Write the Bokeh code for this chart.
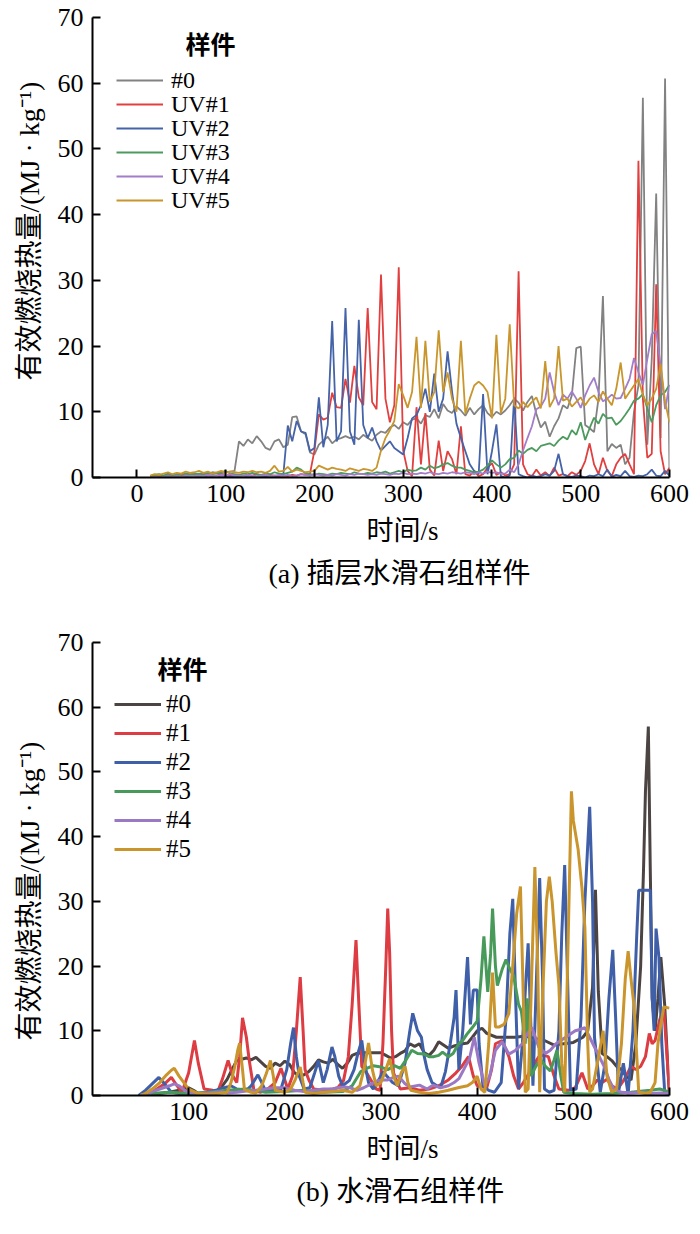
from bokeh.plotting import figure
from bokeh.layouts import column
from bokeh.models import Range1d, FixedTicker, Legend, LegendItem, Label, Title
from bokeh.core.properties import value
from bokeh.embed import file_html
from bokeh.resources import INLINE

SERIF = "'Liberation Serif', 'Noto Sans CJK SC', serif"
CJK_BOLD = "'Noto Sans CJK SC', sans-serif"

# ---------------- (a) data: sampling times (s) and heat values ----------------
t_top = list(range(15, 601, 5))

top_labels = ["#0", "UV#1", "UV#2", "UV#3", "UV#4", "UV#5"]
top_colors = ["#828282", "#e0403f", "#4563a8", "#4c9a5e", "#a27dc9", "#c8962c"]

gray_top = [0.1,0.2,0.3,0.2,0.4,0.3,0.5,0.4,0.6,0.5,
            0.6,0.5,0.7,0.6,0.8,0.7,0.6,0.8,0.9,1.0,
            5.5,4.8,5.8,5.2,6.3,5.5,4.5,4.2,5.5,5.8,
            4.6,5.0,9.2,9.3,7.0,6.6,3.8,3.5,5.0,5.6,
            6.2,5.2,5.8,6.0,6.3,6.0,6.2,5.8,6.5,6.0,
            5.6,6.5,7.0,6.8,7.6,8.0,7.4,8.4,8.0,8.8,
            9.0,8.2,9.5,9.2,10.4,9.0,11.2,10.2,9.8,10.8,
            10.2,9.4,10.6,9.6,10.4,11.0,9.8,9.2,10.0,9.6,
            10.2,11.0,12.0,11.4,10.2,11.5,12.4,9.7,7.6,8.5,
            6.2,7.8,9.0,11.0,10.5,12.5,19.7,19.9,8.0,7.5,
            6.9,12.0,27.6,4.0,5.1,4.5,5.0,2.0,3.0,10.0,
            14.0,57.8,5.0,18.0,43.2,6.0,60.7,0.5]
red_top = [0.0,0.0,0.1,0.0,0.2,0.1,0.0,0.2,0.3,0.1,
           0.2,0.3,0.1,0.4,0.2,0.3,0.5,0.2,0.3,0.4,
           0.3,0.2,0.4,0.3,0.5,0.3,0.2,0.4,0.3,0.2,
           0.3,0.2,0.4,0.3,0.5,0.4,0.6,4.1,9.6,8.8,
           9.1,12.9,10.7,10.6,15.0,11.4,17.0,12.2,11.0,25.8,
           11.5,10.4,30.9,12.0,8.4,11.0,32.0,4.1,1.0,0.2,
           10.7,2.0,9.8,1.2,0.3,5.6,1.0,4.0,2.8,0.5,
           7.8,0.5,0.3,1.0,0.2,0.5,1.5,2.2,0.4,0.8,
           0.3,0.5,2.0,31.4,2.0,0.5,0.2,1.2,0.3,0.8,
           0.2,1.5,0.3,0.5,0.2,0.8,0.4,1.0,2.5,5.2,
           2.0,0.5,3.0,1.0,0.2,2.0,3.0,3.6,2.0,0.5,
           48.2,12.0,3.0,3.6,29.4,4.0,0.5,1.5]
blue_top = [0.0,0.0,0.0,0.0,0.1,0.0,0.1,0.0,0.2,0.1,
            0.1,0.2,0.1,0.3,0.2,0.1,0.3,0.2,0.1,0.2,
            0.2,0.1,0.3,0.2,0.1,0.2,0.3,0.1,0.2,0.3,
            0.5,7.9,5.5,8.6,7.0,6.8,4.0,4.5,12.2,4.6,
            8.0,23.8,5.5,7.0,25.8,7.0,5.0,24.0,8.0,6.0,
            7.6,5.5,4.1,4.8,5.5,4.5,4.0,3.5,6.0,9.0,
            9.5,11.0,13.5,10.0,15.8,10.0,12.0,19.2,13.1,8.2,
            6.0,4.0,2.0,1.0,0.5,12.7,0.5,4.0,8.1,0.2,
            0.0,0.3,12.2,0.5,0.2,0.0,0.3,0.1,0.2,0.5,
            0.3,1.0,3.6,0.5,0.2,0.1,0.3,0.2,0.0,0.3,
            0.2,0.5,0.2,1.2,0.1,0.4,0.2,1.0,0.2,0.1,
            0.3,0.2,0.5,1.2,0.3,0.2,1.0,0.3]
green_top = [0.2,0.4,0.5,0.3,0.6,0.4,0.3,0.5,0.6,0.4,
             0.5,0.6,0.4,0.7,0.5,0.6,0.8,1.0,0.6,0.5,
             0.4,0.6,0.5,0.7,0.5,0.4,0.6,0.5,0.8,0.6,
             0.5,0.7,0.9,1.5,1.2,0.6,0.5,0.4,0.6,0.5,
             0.4,0.6,0.5,0.7,0.6,0.5,0.8,0.6,0.5,0.7,
             0.6,0.8,0.7,0.9,0.6,0.8,1.0,0.8,1.2,1.0,
             1.1,1.5,1.2,1.8,1.4,1.6,2.0,2.2,1.8,1.5,
             1.5,1.2,1.0,0.8,0.9,1.2,1.8,2.6,2.0,1.5,
             2.0,2.8,3.0,4.1,3.6,4.2,4.5,4.0,4.8,5.0,
             5.2,4.8,5.6,6.2,5.8,7.2,6.5,8.4,5.7,7.5,
             9.1,8.2,9.7,9.0,9.1,8.0,8.6,9.5,10.5,11.7,
             12.0,12.7,10.5,8.4,11.0,12.5,13.0,14.1]
purple_top = [0.0,0.1,0.0,0.1,0.2,0.1,0.2,0.1,0.3,0.2,
              0.2,0.3,0.2,0.4,0.3,0.2,0.4,0.3,0.5,0.3,
              0.3,0.2,0.4,0.3,0.2,0.3,0.4,0.2,0.3,0.4,
              0.3,0.4,0.2,0.3,0.5,0.4,0.3,0.5,0.4,0.3,
              0.4,0.3,0.5,0.4,0.3,0.5,0.4,0.6,0.5,0.4,
              0.5,0.4,0.6,0.5,0.4,0.6,0.5,0.7,0.5,0.6,
              0.5,0.7,0.6,0.8,0.6,0.5,0.7,0.6,0.8,0.7,
              0.6,0.8,0.7,0.5,0.8,0.6,0.9,0.7,0.8,0.6,
              0.6,1.2,0.8,2.0,4.1,6.0,7.8,10.4,10.8,12.0,
              16.0,13.0,11.0,12.6,12.0,13.1,12.0,10.6,12.5,14.0,
              15.2,13.0,11.6,12.0,12.6,12.0,12.1,13.5,15.0,18.2,
              16.0,14.1,18.0,21.8,22.3,17.0,10.4,14.1]
gold_top = [0.3,0.5,0.4,0.6,0.8,0.5,0.7,0.6,0.9,0.7,
            0.8,1.0,0.7,0.9,0.6,0.8,1.0,0.7,0.9,0.8,
            0.7,0.9,0.8,1.0,0.8,0.9,0.7,1.0,1.8,0.9,
            1.0,1.6,0.9,1.2,1.0,0.8,0.9,1.0,1.8,1.5,
            1.2,1.5,1.3,1.2,1.0,1.4,1.2,1.0,1.3,1.2,
            1.0,1.5,4.1,6.0,7.2,8.6,14.2,12.5,10.6,13.0,
            21.4,10.6,20.8,11.5,13.0,22.4,13.0,16.0,12.0,10.0,
            20.8,9.7,12.0,14.0,14.6,14.0,13.0,9.0,21.7,9.8,
            12.0,23.3,11.0,10.5,11.5,10.7,11.5,12.2,10.5,17.7,
            10.7,12.0,20.0,11.7,12.0,10.8,11.5,12.2,11.0,12.0,
            12.5,11.5,13.1,12.0,11.0,13.5,17.5,12.0,13.0,14.0,
            15.0,12.5,11.0,12.0,13.5,17.3,11.5,8.4]

# ---------------- (b) data: (time s, value) samples ----------------
bot_labels = ["#0", "#1", "#2", "#3", "#4", "#5"]
bot_colors = ["#4b4442", "#dc3c42", "#3f5fa8", "#479a5a", "#9b78c3", "#c9952c"]

dark_bot = [(50,0),(60,0.2),(70,0.3),(80,0.5),(90,0.8),(95,1.0),(100,1.2),(105,0.8),(110,0.3),(120,0.3),
            (130,0.8),(135,1.5),(140,2.5),(145,4.0),(150,5.4),(155,5.6),(160,5.8),(165,5.5),(170,5.9),(175,5.2),
            (180,4.5),(185,4.2),(190,5.0),(195,4.6),(200,5.3),(205,4.8),(210,3.5),(215,3.0),(220,3.2),(225,3.7),
            (230,4.5),(235,5.5),(240,5.2),(245,5.0),(250,5.6),(255,4.8),(260,4.2),(265,5.0),(270,6.2),(275,6.5),
            (280,6.6),(290,6.6),(300,6.6),(305,6.2),(310,5.8),(315,6.0),(320,6.5),(325,6.9),(330,8.0),(335,7.6),
            (340,8.0),(345,6.6),(350,6.2),(355,7.0),(360,8.3),(365,7.8),(370,7.3),(375,7.6),(380,7.8),(385,8.0),
            (390,8.1),(395,9.0),(400,10.0),(405,10.4),(410,9.6),(420,9.0),(430,9.0),(440,9.0),(450,9.2),(460,8.8),
            (470,8.5),(480,7.8),(490,8.0),(500,8.2),(510,9.0),(515,10.0),(520,16.7),(523,31.8),(526,16.0),(530,6.5),
            (535,6.0),(540,5.4),(545,4.5),(550,4.0),(555,3.0),(560,2.4),(565,8.0),(570,20.0),(573,35.0),(575,47.0),
            (578,57.0),(580,35.0),(582,15.0),(585,10.0),(588,15.0),(591,21.4),(595,14.0),(598,5.0),(600,0.0)]
red_bot = [(50,0),(55,0),(65,0.8),(75,1.8),(82,2.8),(88,1.5),(93,0.5),(100,3.5),(106,8.5),(110,5.0),
           (116,1.0),(125,0.8),(130,0.5),(135,2.5),(141,5.4),(146,3.0),(150,2.0),(153,6.0),(156,12.0),(160,9.0),
           (163,5.4),(168,0.7),(175,0.5),(182,1.0),(190,2.0),(196,4.2),(203,1.0),(208,3.0),(212,10.0),(216,18.3),
           (219,10.0),(221,4.0),(225,2.4),(230,1.0),(240,0.8),(250,1.0),(255,1.2),(261,2.3),(266,6.0),(270,14.0),
           (274,24.0),(277,14.0),(280,4.5),(285,3.5),(289,2.5),(295,1.0),(299,0.8),(302,8.0),(305,20.0),(307,28.9),
           (309,22.0),(311,10.0),(313,3.5),(320,1.0),(330,1.2),(340,0.8),(350,1.0),(360,1.5),(370,2.4),(378,3.5),
           (384,4.5),(391,6.0),(396,3.0),(400,1.5),(410,1.2),(415,4.0),(419,8.0),(426,8.5),(433,6.0),(438,3.0),
           (443,1.0),(448,2.0),(453,3.2),(458,4.5),(464,6.0),(469,6.2),(474,6.0),(480,3.0),(485,1.0),(495,0.8),
           (502,1.2),(509,3.5),(515,1.0),(520,1.5),(525,2.4),(530,2.0),(535,2.5),(540,1.5),(546,1.0),(553,2.5),
           (560,4.5),(565,4.0),(570,4.5),(575,6.0),(579,9.6),(582,8.0),(585,8.5),(590,11.8),(594,13.5),(597,7.0),
           (600,0.5)]
blue_bot = [(48,0),(55,0.8),(62,1.8),(69,2.8),(75,1.8),(82,0.5),(90,0.3),(100,0.2),(110,0.3),(120,0.5),
            (128,0.8),(134,1.1),(140,1.3),(144,1.5),(150,1.0),(160,0.8),(165,1.5),(172,3.2),(176,2.0),(179,1.0),
            (190,0.8),(196,1.0),(202,4.0),(206,8.0),(209,10.5),(212,6.0),(215,3.0),(220,1.0),(226,1.2),(231,3.5),
            (235,5.4),(240,2.0),(244,4.0),(249,7.5),(252,6.0),(256,3.0),(260,1.5),(267,2.3),(272,4.0),(276,6.5),
            (280,8.5),(283,5.0),(287,2.0),(292,1.0),(298,2.5),(302,3.7),(306,3.0),(312,2.0),(318,1.5),(325,5.0),
            (330,10.0),(333,12.7),(338,10.0),(342,9.0),(345,6.0),(348,4.0),(353,2.0),(358,1.5),(362,1.2),(367,3.7),
            (372,8.0),(376,12.0),(378,16.3),(381,4.0),(385,10.0),(390,21.4),(393,11.0),(396,16.3),(400,16.3),(402,8.0),
            (406,1.5),(412,0.8),(418,0.5),(425,2.0),(430,12.0),(434,25.0),(437,30.4),(440,15.0),(443,1.0),(447,8.0),
            (450,16.0),(453,23.5),(456,10.0),(458,1.5),(461,15.0),(465,33.6),(468,18.0),(470,1.0),(475,0.5),(480,0.8),
            (485,10.0),(488,25.0),(491,35.6),(494,18.0),(497,0.8),(503,1.0),(508,12.0),(512,30.0),(517,44.6),(520,30.0),
            (522,9.0),(528,0.5),(533,5.0),(537,15.0),(541,22.5),(544,12.0),(547,0.5),(552,5.0),(557,0.2),(562,10.0),
            (566,25.0),(568,31.7),(575,31.7),(580,31.7),(582,15.0),(584,10.0),(586,25.8),(589,21.4),(592,8.0),(595,0.5),
            (600,0.2)]
green_bot = [(50,0),(60,0.3),(80,0.5),(100,0.3),(120,0.5),(140,0.8),(160,1.0),(180,0.5),(200,0.6),(220,0.8),
             (240,0.5),(260,0.6),(270,1.5),(279,3.7),(285,4.2),(292,4.6),(300,4.4),(307,4.0),(314,4.6),(320,4.2),
             (326,5.5),(332,7.0),(338,6.5),(345,6.4),(350,6.0),(355,6.0),(360,6.2),(364,6.7),(370,6.0),(375,6.5),
             (378,7.3),(381,8.0),(385,8.5),(389,9.4),(395,10.5),(400,11.5),(404,18.0),(407,24.6),(411,16.0),(414,22.0),
             (416,28.9),(419,20.0),(421,17.0),(426,19.5),(430,21.0),(434,19.5),(438,18.5),(443,14.1),(446,13.0),(450,8.0),
             (452,15.0),(456,3.0),(461,4.5),(466,5.6),(471,4.5),(476,3.8),(480,5.5),(483,7.0),(487,3.0),(490,0.5),
             (500,0.3),(520,0.2),(540,0.3),(560,0.5),(580,0.8),(590,1.0),(600,0.5)]
purple_bot = [(50,0),(60,0.5),(70,1.0),(80,1.5),(85,1.8),(90,1.5),(96,0.8),(100,0.5),(110,0.3),(120,0.4),
              (128,0.5),(134,0.6),(140,0.4),(150,0.5),(160,0.7),(170,0.8),(180,1.0),(190,1.2),(200,1.2),(210,0.8),
              (220,0.6),(230,0.8),(240,1.0),(250,1.0),(255,1.2),(262,1.3),(268,1.2),(275,0.8),(282,1.2),(290,1.8),
              (295,2.2),(300,2.4),(307,2.4),(313,2.8),(318,3.0),(325,1.8),(330,1.3),(340,1.6),(348,1.0),(354,1.6),
              (362,1.2),(370,1.5),(376,2.0),(381,2.6),(386,4.0),(392,5.7),(397,9.0),(402,5.0),(408,1.5),(413,3.0),
              (419,7.0),(426,8.3),(433,6.4),(440,7.0),(447,8.0),(452,9.5),(457,10.5),(464,7.5),(471,6.5),(476,7.0),
              (482,8.0),(487,8.5),(492,9.0),(497,9.5),(502,10.0),(507,10.2),(512,10.5),(517,9.0),(522,7.5),(527,6.0),
              (532,4.5),(537,2.5),(542,1.0),(550,0.5),(560,0.4),(570,0.5),(580,0.3),(590,0.4),(600,0.3)]
gold_bot = [(50,0),(55,0.3),(62,1.0),(70,2.0),(77,3.2),(82,3.9),(85,4.2),(90,3.0),(95,2.0),(100,1.0),
            (110,0.3),(120,0.2),(130,0.3),(140,0.5),(144,2.0),(148,4.5),(151,7.0),(153,8.1),(156,4.0),(158,0.9),
            (165,0.5),(170,0.4),(176,1.5),(181,3.5),(185,5.4),(188,3.0),(190,0.8),(200,0.5),(206,1.0),(211,2.5),
            (216,4.4),(219,2.0),(221,0.5),(230,0.3),(240,0.5),(250,0.6),(260,0.8),(270,0.5),(278,1.5),(283,4.5),
            (287,8.1),(291,4.0),(295,1.5),(300,2.0),(305,4.0),(309,5.7),(313,3.0),(317,1.5),(321,3.5),(325,4.5),
            (328,2.0),(331,0.8),(340,0.5),(350,0.3),(360,0.5),(370,0.8),(380,1.2),(390,1.5),(395,2.0),(400,3.0),
            (404,1.0),(408,0.5),(412,8.0),(416,19.0),(419,10.6),(423,10.6),(428,11.0),(433,12.7),(437,20.0),(441,28.0),
            (445,32.3),(448,15.0),(450,0.5),(453,1.0),(456,15.0),(460,35.3),(463,20.0),(465,0.5),(468,15.0),(472,30.0),
            (475,33.8),(478,30.0),(482,22.0),(485,17.0),(488,5.0),(491,0.5),(494,20.0),(498,47.0),(500,42.5),(505,38.0),
            (509,32.0),(512,26.0),(515,8.0),(517,0.5),(520,1.0),(525,5.0),(531,10.0),(535,3.0),(540,0.5),(545,1.0),
            (550,8.0),(554,18.0),(557,22.3),(560,18.0),(563,14.0),(566,6.0),(568,0.5),(575,0.3),(580,0.5),(585,2.0),
            (588,8.0),(591,11.0),(594,13.7),(600,13.5)]

y_ticks = [0, 10, 20, 30, 40, 50, 60, 70]
x_ticks = [0, 100, 200, 300, 400, 500, 600]

Y_LABEL = "有效燃烧热量/(MJ · kg⁻¹)"
X_LABEL = "时间/s"


def style(p, xticks, yticks):
    p.xgrid.visible = False
    p.ygrid.visible = False
    p.outline_line_color = None
    p.background_fill_color = "white"
    p.border_fill_color = "white"
    p.xaxis.ticker = FixedTicker(ticks=xticks)
    p.yaxis.ticker = FixedTicker(ticks=yticks)
    for ax in (p.xaxis[0], p.yaxis[0]):
        ax.axis_line_width = 2
        ax.axis_line_color = "black"
        ax.major_tick_in = 8
        ax.major_tick_out = 0
        ax.minor_tick_in = 0
        ax.minor_tick_out = 0
        ax.major_tick_line_width = 2
        ax.major_tick_line_color = "black"
        ax.major_label_text_font = SERIF
        ax.major_label_text_font_size = "26px"
        ax.major_label_text_color = "black"
    p.xaxis[0].major_label_standoff = 7
    p.yaxis[0].major_label_standoff = 9


def add_title(p, text, side, offset, standoff, size):
    p.add_layout(Title(text=text, align="left", offset=offset, standoff=standoff,
                       vertical_align="middle", text_font=SERIF, text_font_size=size,
                       text_font_style="normal", text_color="black"), side)


def add_label(p, text, x, y, size, font=SERIF, bold=False):
    p.add_layout(Label(x=x, y=y, x_units="screen", y_units="screen", text=text,
                       text_align="center", text_baseline="middle",
                       text_font=font, text_font_size=size,
                       text_font_style="bold" if bold else "normal",
                       text_color="black"))


def add_legend(p, renderers, labels, x_rel, rows_rel, standoff, size):
    for r, lab, yc in zip(renderers, labels, rows_rel):
        leg = Legend(items=[LegendItem(label=value(lab), renderers=[r])],
                     location=(x_rel, yc - 20), glyph_width=47, glyph_height=40,
                     label_height=40, label_standoff=standoff, padding=0, margin=0,
                     spacing=0, border_line_color=None, background_fill_alpha=0,
                     label_text_font=SERIF, label_text_font_size=size,
                     label_text_color="black")
        p.add_layout(leg)


# ---------------- figure (a) ----------------
p1 = figure(width=700, height=600, x_range=Range1d(-50, 600), y_range=Range1d(0, 70),
            output_backend="svg", toolbar_location=None,
            min_border_left=92, min_border_right=31, min_border_top=17, min_border_bottom=123)
style(p1, x_ticks, y_ticks)
top_series = [gray_top, red_top, blue_top, green_top, purple_top, gold_top]
r_top = []
for vals, col in zip(top_series, top_colors):
    r_top.append(p1.line(t_top, vals, line_color=col, line_width=1.8))
add_legend(p1, r_top, top_labels, 24, [397, 373, 349, 325, 301, 277], 8, "24px")
add_label(p1, "样件", 118, 435, "25px", font=CJK_BOLD, bold=True)
add_title(p1, Y_LABEL, "left", 97, 18, "28px")
add_title(p1, X_LABEL, "below", 274, 20, "27px")
add_title(p1, "(a) 插层水滑石组样件", "below", 176, 0, "28px")

# ---------------- figure (b) ----------------
p2 = figure(width=700, height=630, x_range=Range1d(0, 600), y_range=Range1d(0, 70),
            output_backend="svg", toolbar_location=None,
            min_border_left=90, min_border_right=28, min_border_top=42, min_border_bottom=135)
style(p2, x_ticks[1:], y_ticks)
bot_series = [dark_bot, red_bot, blue_bot, green_bot, purple_bot, gold_bot]
r_bot = []
for pairs, col in zip(bot_series, bot_colors):
    ts = [a for a, b in pairs]
    vs = [b for a, b in pairs]
    r_bot.append(p2.line(ts, vs, line_color=col, line_width=3))
add_legend(p2, r_bot, bot_labels, 22, [391, 362, 333, 304, 275, 246], 5, "25px")
add_label(p2, "样件", 90, 428, "25px", font=CJK_BOLD, bold=True)
add_title(p2, Y_LABEL, "left", 55, 18, "28px")
add_title(p2, X_LABEL, "below", 274, 20, "27px")
add_title(p2, "(b) 水滑石组样件", "below", 204, 0, "28px")

layout = column(p1, p2)
open("out.html", "w").write(file_html(layout, INLINE, "chart"))
